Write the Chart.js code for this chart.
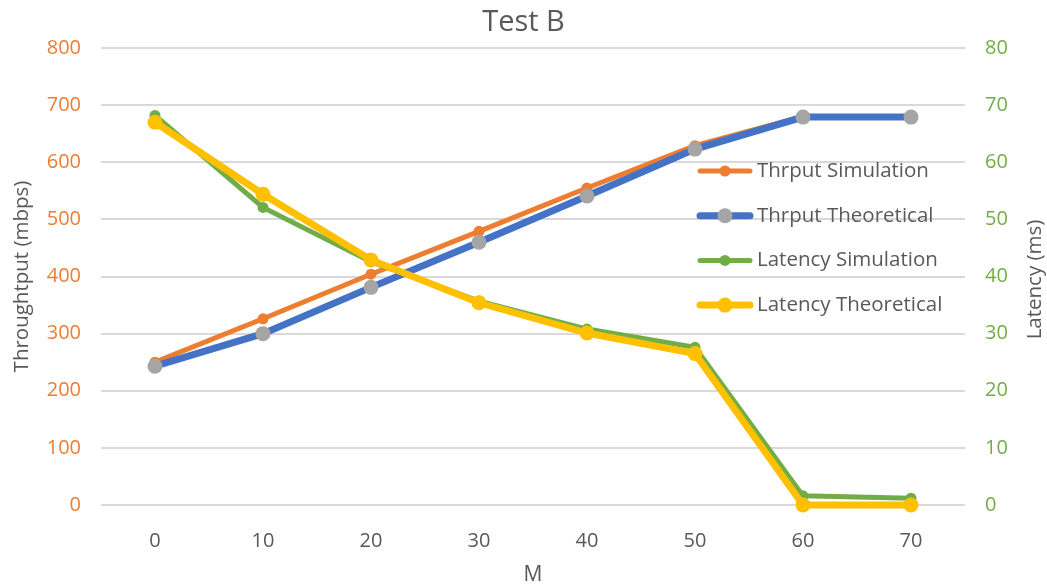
<!DOCTYPE html>
<html>
<head>
<meta charset="utf-8">
<script src="https://cdn.jsdelivr.net/npm/chart.js@4"></script>
<style>
  html, body { margin: 0; padding: 0; background: #fff; }
  #wrap { width: 1047px; height: 586px; }
</style>
</head>
<body>
<div id="wrap"><canvas id="chart" width="1047" height="586"></canvas></div>
<script>
// values
const mValues = ['0', '10', '20', '30', '40', '50', '60', '70'];
const thrputSim = [250, 326, 404, 479, 555, 629, 680, 680];
const thrputTheo = [243, 300, 381, 460, 541, 623, 679, 679];
const latencySim = [68.2, 52.1, 42.6, 35.7, 30.8, 27.6, 1.6, 1.2];
const latencyTheo = [67.0, 54.4, 42.9, 35.4, 30.1, 26.5, 0, 0];

const textGray = '#595959';
const fontFamily = '"Open Sans", "Noto Sans", sans-serif';

// legend drawn inside the plot, on the right like the Excel original,
// plus the right axis title which reads bottom-to-top
const extras = {
  id: 'extras',
  afterDraw(chart) {
    const ctx = chart.ctx;
    const area = chart.chartArea;
    const x0 = area.right - 265;
    const y0 = area.top + 123;
    ctx.save();
    ctx.font = '20.5px ' + fontFamily;
    ctx.textBaseline = 'middle';
    chart.data.datasets.forEach((ds, i) => {
      const y = y0 + i * 44.7;
      ctx.strokeStyle = ds.borderColor;
      ctx.lineWidth = ds.borderWidth;
      ctx.lineCap = 'round';
      ctx.beginPath();
      ctx.moveTo(x0, y);
      ctx.lineTo(x0 + 50, y);
      ctx.stroke();
      ctx.fillStyle = ds.pointBackgroundColor;
      ctx.beginPath();
      ctx.arc(x0 + 25, y, ds.pointRadius, 0, Math.PI * 2);
      ctx.fill();
      ctx.fillStyle = textGray;
      ctx.fillText(ds.label, x0 + 57, y);
    });

    // right axis title
    ctx.translate(1035, (area.top + area.bottom) / 2 + 3);
    ctx.rotate(-Math.PI / 2);
    ctx.textAlign = 'center';
    ctx.font = '20.5px ' + fontFamily;
    ctx.fillText('Latency (ms)', 0, 0);
    ctx.restore();
  }
};

new Chart(document.getElementById('chart'), {
  type: 'line',
  data: {
    labels: mValues,
    datasets: [
      {
        label: 'Thrput Simulation', data: thrputSim, yAxisID: 'y', order: 4, clip: false,
        borderColor: '#ED7D31', backgroundColor: '#ED7D31', pointBackgroundColor: '#ED7D31',
        borderWidth: 5, pointRadius: 5.5, pointBorderWidth: 0
      },
      {
        label: 'Thrput Theoretical', data: thrputTheo, yAxisID: 'y', order: 3, clip: false,
        borderColor: '#4472C4', backgroundColor: '#A5A5A5', pointBackgroundColor: '#A5A5A5',
        borderWidth: 7, pointRadius: 7.5, pointBorderWidth: 0
      },
      {
        label: 'Latency Simulation', data: latencySim, yAxisID: 'y1', order: 2, clip: false,
        borderColor: '#70AD47', backgroundColor: '#70AD47', pointBackgroundColor: '#70AD47',
        borderWidth: 5, pointRadius: 5.5, pointBorderWidth: 0
      },
      {
        label: 'Latency Theoretical', data: latencyTheo, yAxisID: 'y1', order: 1, clip: false,
        borderColor: '#FFC000', backgroundColor: '#FFC000', pointBackgroundColor: '#FFC000',
        borderWidth: 7, pointRadius: 7.5, pointBorderWidth: 0
      }
    ]
  },
  options: {
    responsive: false,
    animation: false,
    layout: { padding: 0 },
    plugins: {
      legend: { display: false },
      tooltip: { enabled: false },
      title: {
        display: true,
        text: 'Test B',
        color: textGray,
        font: { family: fontFamily, size: 29, weight: 'normal' },
        padding: { top: 5, bottom: 8.2 }
      }
    },
    scales: {
      x: {
        offset: true,
        grid: { display: false },
        border: { display: false },
        ticks: { color: textGray, font: { family: fontFamily, size: 20 }, padding: 16 },
        title: { display: true, text: 'M', color: textGray, font: { family: fontFamily, size: 21, lineHeight: 1.0 }, padding: 0 },
        afterFit: s => { s.height = 81; }
      },
      y: {
        position: 'left',
        min: 0, max: 800,
        grid: { color: '#D9D9D9', lineWidth: 2, drawTicks: false },
        border: { display: false },
        ticks: { stepSize: 100, color: '#ED7D31', font: { family: fontFamily, size: 20 }, padding: 20 },
        title: { display: true, text: 'Throughtput (mbps)', color: textGray, font: { family: fontFamily, size: 20.5 }, padding: { top: 9.5, bottom: 0 } },
        afterFit: s => { s.width = 101; }
      },
      y1: {
        position: 'right',
        min: 0, max: 80,
        grid: { display: false, drawTicks: false },
        border: { display: false },
        ticks: { stepSize: 10, color: '#70AD47', font: { family: fontFamily, size: 20 }, padding: 20 },
        afterFit: s => { s.width = 82; }
      }
    }
  },
  plugins: [extras]
});
</script>
</body>
</html>
